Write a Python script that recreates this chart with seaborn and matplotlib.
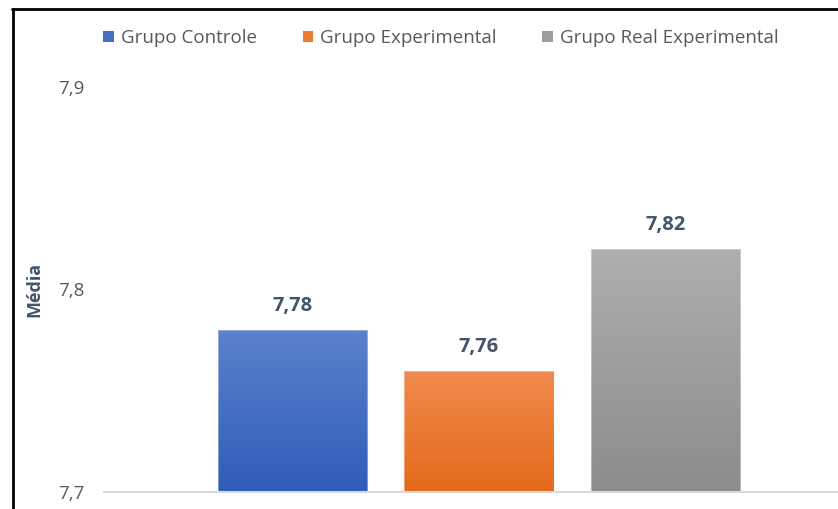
import numpy as np
import matplotlib
matplotlib.use("Agg")
import matplotlib.pyplot as plt
from matplotlib.lines import Line2D
from matplotlib.patches import Patch
from matplotlib.colors import to_rgb
import seaborn as sns

# Dados
grupos = ["Grupo Controle", "Grupo Experimental", "Grupo Real Experimental"]
medias = [7.78, 7.76, 7.82]
rotulos = ["7,78", "7,76", "7,82"]
ticks_y = [7.7, 7.8, 7.9]
ticks_y_txt = ["7,7", "7,8", "7,9"]

# Gradiente de cada barra (topo -> base)
cor_topo = ["#5B81CC", "#F08B4E", "#AEAEAE"]
cor_base = ["#2E5DB8", "#E4691A", "#8C8C8C"]
cor_media = ["#4470C4", "#EC7A33", "#9D9D9D"]

sns.set_theme(style="white")
plt.rcParams["font.family"] = ["Open Sans", "DejaVu Sans"]

fig = plt.figure(figsize=(8.38, 5.09), dpi=100)
ax = fig.add_axes([104 / 838, 17 / 509, 1 - 104 / 838, (492 - 87) / 509])

sns.barplot(x=grupos, y=medias, hue=grupos, palette=cor_media,
            legend=False, width=0.8, ax=ax)

ax.set_ylim(7.7, 7.9)
ax.set_xlim(-1.011, 2.925)

# Preenchimento em degradê recortado pela forma de cada barra
for patch, c0, c1, txt in zip(ax.patches, cor_topo, cor_base, rotulos):
    x0 = patch.get_x()
    w = patch.get_width()
    top = patch.get_y() + patch.get_height()
    grad = np.linspace(0, 1, 256)[:, None, None]
    img = (1 - grad) * np.array(to_rgb(c0)) + grad * np.array(to_rgb(c1))
    img = np.repeat(img, 2, axis=1)
    im = ax.imshow(img, extent=[x0, x0 + w, 7.7, top], aspect="auto",
                   origin="upper", zorder=2)
    im.set_clip_path(patch)
    patch.set_facecolor("none")
    patch.set_edgecolor((1, 1, 1, 0.35))
    patch.set_linewidth(0.8)
    patch.set_zorder(3)
    ax.annotate(txt, (x0 + w / 2, top), xytext=(0, 17), textcoords="offset points",
                ha="center", va="center", fontsize=14.5, fontweight="bold",
                color="#44546A")

ax.set_yticks(ticks_y)
ax.set_yticklabels(ticks_y_txt, fontsize=13.5, color="#595959")
ax.tick_params(axis="y", length=0, pad=14)
ax.set_xticks([])
ax.set_xlabel("")
ax.set_ylabel("Média", fontsize=13, fontweight="bold", color="#44546A", labelpad=11)

for s in ["top", "right", "left"]:
    ax.spines[s].set_visible(False)
ax.spines["bottom"].set_color("#D9D9D9")
ax.spines["bottom"].set_linewidth(1.5)

# Legenda
handles = [Patch(facecolor=c, edgecolor="none") for c in cor_media]
fig.legend(handles, grupos, loc="center", bbox_to_anchor=(0.526, 1 - 38 / 509),
           ncol=3, frameon=False, fontsize=13.5, handlelength=0.55, handleheight=0.55,
           handletextpad=0.37, columnspacing=2.45, labelcolor="#595959")

# Moldura
fig.add_artist(Line2D([12 / 838, 1], [1 - 8.5 / 509] * 2, transform=fig.transFigure,
                      color="black", lw=2))
fig.add_artist(Line2D([12.5 / 838] * 2, [0, 1 - 8.5 / 509], transform=fig.transFigure,
                      color="black", lw=2))

fig.savefig("out.png", dpi=100)
